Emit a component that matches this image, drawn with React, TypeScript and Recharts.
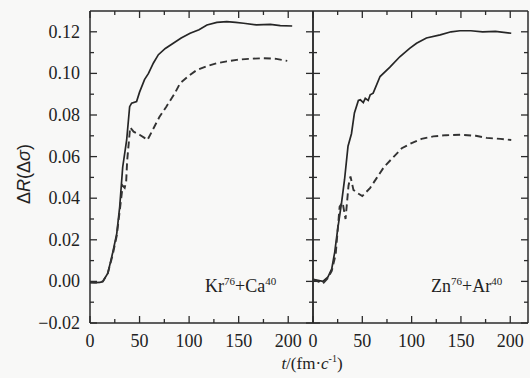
import React from 'react'
import { LineChart, Line, XAxis, YAxis } from 'recharts'

// Kr76 + Ca40 (left panel)
const krSolidT = [0, 5, 10, 13, 18, 23, 27, 30, 33, 37, 40, 42, 47, 50, 55, 59, 64, 69, 76, 84, 92, 101, 110, 118, 128, 138, 147, 155, 168, 182, 192, 204]
const krSolidR = [-0.0005, -0.0006, -0.0005, 0.0, 0.004, 0.014, 0.023, 0.036, 0.055, 0.068, 0.084, 0.0857, 0.0865, 0.091, 0.097, 0.1, 0.105, 0.109, 0.112, 0.1145, 0.117, 0.1193, 0.121, 0.1233, 0.1245, 0.1249, 0.1245, 0.1241, 0.1233, 0.1236, 0.123, 0.1228]
const krDashT = [0, 5, 10, 13, 18, 23, 27, 30, 33, 35, 36.5, 37.5, 39, 40.5, 44, 50, 55, 58, 64, 70, 77, 85, 91, 100, 108, 118, 128, 138, 148, 160, 175, 188, 199]
const krDashR = [-0.0005, -0.0006, -0.0005, 0.0, 0.004, 0.013, 0.022, 0.034, 0.046, 0.045, 0.048, 0.058, 0.066, 0.074, 0.072, 0.0705, 0.069, 0.068, 0.0735, 0.079, 0.084, 0.09, 0.0953, 0.099, 0.1017, 0.1035, 0.1049, 0.1058, 0.1065, 0.107, 0.1073, 0.107, 0.106]

// Zn76 + Ar40 (right panel)
const znSolidT = [0, 5, 10, 15, 19, 22, 25, 29, 32, 35.5, 39, 42, 46, 48, 51, 53, 56, 58, 61, 68, 78, 88, 98, 105, 115, 129, 140, 149, 160, 172, 185, 201]
const znSolidR = [0.001, 0.0005, 0.0, 0.002, 0.006, 0.014, 0.025, 0.038, 0.049, 0.065, 0.071, 0.081, 0.087, 0.0873, 0.086, 0.088, 0.087, 0.0897, 0.0905, 0.0985, 0.103, 0.108, 0.112, 0.1145, 0.117, 0.1185, 0.12, 0.1205, 0.1205, 0.12, 0.1202, 0.1193]
const znDashT = [0, 5, 10, 15, 19, 23, 27, 30, 33, 36, 38, 41, 45, 50, 58, 65, 72, 80, 90, 100, 110, 122, 135, 150, 165, 176, 190, 201]
const znDashR = [0.001, 0.0, -0.001, 0.0015, 0.005, 0.013, 0.036, 0.038, 0.03, 0.046, 0.0505, 0.044, 0.0425, 0.041, 0.045, 0.05, 0.055, 0.059, 0.064, 0.0665, 0.0685, 0.0697, 0.0703, 0.0705, 0.07, 0.069, 0.0685, 0.068]

const xTicks = [0, 25, 50, 75, 100, 125, 150, 175, 200]
const yTicks = [-0.02, -0.01, 0, 0.01, 0.02, 0.03, 0.04, 0.05, 0.06, 0.07, 0.08, 0.09, 0.1, 0.11, 0.12]

const toPoints = (t: number[], r: number[]) => t.map((v, i) => ({ t: v, r: r[i] }))

const krSolid = toPoints(krSolidT, krSolidR)
const krDash = toPoints(krDashT, krDashR)
const znSolid = toPoints(znSolidT, znSolidR)
const znDash = toPoints(znDashT, znDashR)

const INK = '#2b2b2b'
const Y_DOMAIN: [number, number] = [-0.02, 0.13]
const PLOT_H = 378 - 10 - 1 - 25 - 30
const LEFT_PLOT_W = 320 - 30 - 60 - 6 - 1
const RIGHT_PLOT_W = 227 - 0 - 10 - 1 - 1

const isMajorX = (v: number) => v % 50 === 0
const isMajorY = (v: number) => Math.round(v * 100) % 2 === 0
const fmtY = (v: number) => (v < 0 ? '\u2212' + Math.abs(v).toFixed(2) : v.toFixed(2))

// bottom tick: inward tick + label, and the matching tick on the top frame
function BottomTick(props: any) {
  const { x, y, payload } = props
  const major = isMajorX(payload.value)
  const len = major ? 7 : 4
  const top = y - PLOT_H
  return (
    <g>
      <line x1={x} x2={x} y1={y} y2={y - len} stroke={INK} strokeWidth={1.3} />
      <line x1={x} x2={x} y1={top} y2={top + len} stroke={INK} strokeWidth={1.3} />
      {major && (
        <text x={x} y={y + 24} textAnchor="middle" fontFamily="Liberation Serif" fontSize={18} fill="#222">
          {payload.value}
        </text>
      )}
    </g>
  )
}

// left tick: inward tick + label, and the matching tick on the right frame
function LeftTick(props: any) {
  const { x, y, payload, showLabel, plotW } = props
  const major = isMajorY(payload.value)
  const len = major ? 7 : 4
  const right = x + plotW
  return (
    <g>
      <line x1={x} x2={x + len} y1={y} y2={y} stroke={INK} strokeWidth={1.3} />
      <line x1={right} x2={right - len} y1={y} y2={y} stroke={INK} strokeWidth={1.3} />
      {showLabel && major && (
        <text x={x - 10} y={y + 6} textAnchor="end" fontFamily="Liberation Serif" fontSize={18} fill="#222">
          {fmtY(payload.value)}
        </text>
      )}
    </g>
  )
}

const sup = { fontSize: 11, position: 'relative' as const, top: -7 }

export default function App() {
  return (
    <div style={{ position: 'absolute', left: 0, top: 0, width: 530, height: 378, background: '#f8f8f7' }}>
      <LineChart width={320} height={378} margin={{ top: 10, right: 6, bottom: 25, left: 30 }}>
        <XAxis xAxisId="b" type="number" dataKey="t" domain={[0, 225]} ticks={xTicks} interval={0} height={30}
          tickSize={0} tickMargin={0} tickLine={false} axisLine={{ stroke: INK, strokeWidth: 1.5 }}
          tick={<BottomTick />} />
        <XAxis xAxisId="top" orientation="top" type="number" domain={[0, 225]} height={1}
          axisLine={{ stroke: INK, strokeWidth: 1.5 }} tick={false} tickLine={false} />
        <YAxis yAxisId="l" type="number" domain={Y_DOMAIN} ticks={yTicks} interval={0} width={60}
          tickSize={0} tickMargin={0} tickLine={false} axisLine={{ stroke: INK, strokeWidth: 1.5 }}
          tick={<LeftTick showLabel plotW={LEFT_PLOT_W} />} />
        <YAxis yAxisId="r" orientation="right" type="number" domain={Y_DOMAIN} width={1}
          axisLine={{ stroke: INK, strokeWidth: 1.5 }} tick={false} tickLine={false} />
        <Line xAxisId="b" yAxisId="l" data={krSolid} dataKey="r" type="linear" stroke="#262626" strokeWidth={1.7}
          dot={false} activeDot={false} isAnimationActive={false} />
        <Line xAxisId="b" yAxisId="l" data={krDash} dataKey="r" type="linear" stroke="#333" strokeWidth={1.9}
          strokeDasharray="7 4" dot={false} activeDot={false} isAnimationActive={false} />
      </LineChart>

      <LineChart width={227} height={378} margin={{ top: 10, right: 1, bottom: 25, left: 0 }}
        style={{ position: 'absolute', left: 303, top: 0 }}>
        <XAxis xAxisId="b" type="number" dataKey="t" domain={[0, 218]} ticks={xTicks} interval={0} height={30}
          tickSize={0} tickMargin={0} tickLine={false} axisLine={{ stroke: INK, strokeWidth: 1.5 }}
          tick={<BottomTick />} />
        <XAxis xAxisId="top" orientation="top" type="number" domain={[0, 218]} height={1}
          axisLine={{ stroke: INK, strokeWidth: 1.5 }} tick={false} tickLine={false} />
        <YAxis yAxisId="l" type="number" domain={Y_DOMAIN} ticks={yTicks} interval={0} width={10}
          tickSize={0} tickMargin={0} tickLine={false} axisLine={{ stroke: INK, strokeWidth: 1.5 }}
          tick={<LeftTick showLabel={false} plotW={RIGHT_PLOT_W} />} />
        <YAxis yAxisId="r" orientation="right" type="number" domain={Y_DOMAIN} width={1}
          axisLine={{ stroke: INK, strokeWidth: 1.5 }} tick={false} tickLine={false} />
        <Line xAxisId="b" yAxisId="l" data={znSolid} dataKey="r" type="linear" stroke="#262626" strokeWidth={1.7}
          dot={false} activeDot={false} isAnimationActive={false} />
        <Line xAxisId="b" yAxisId="l" data={znDash} dataKey="r" type="linear" stroke="#333" strokeWidth={1.9}
          strokeDasharray="7 4" dot={false} activeDot={false} isAnimationActive={false} />
      </LineChart>

      <div style={{ position: 'absolute', left: 205, top: 276, fontFamily: 'Liberation Serif', fontSize: 18, color: '#222', whiteSpace: 'nowrap' }}>
        Kr<span style={sup}>76</span>+Ca<span style={sup}>40</span>
      </div>
      <div style={{ position: 'absolute', left: 431, top: 276, fontFamily: 'Liberation Serif', fontSize: 18, color: '#222', whiteSpace: 'nowrap' }}>
        Zn<span style={sup}>76</span>+Ar<span style={sup}>40</span>
      </div>
      <div style={{ position: 'absolute', left: 252, top: 354, width: 120, textAlign: 'center', fontFamily: 'Liberation Serif', fontSize: 17, color: '#222', whiteSpace: 'nowrap' }}>
        <i>t</i>/(fm·<i>c</i><span style={{ fontSize: 10, position: 'relative', top: -7 }}>-1</span>)
      </div>
      <div
        style={{
          position: 'absolute',
          left: -35,
          top: 163,
          width: 120,
          height: 22,
          textAlign: 'center',
          transform: 'rotate(-90deg)',
          fontFamily: 'Liberation Sans, Arial, sans-serif',
          fontSize: 18,
          color: '#222',
          whiteSpace: 'nowrap',
        }}
      >
        Δ<i>R</i>(Δ<i>σ</i>)
      </div>
    </div>
  )
}
